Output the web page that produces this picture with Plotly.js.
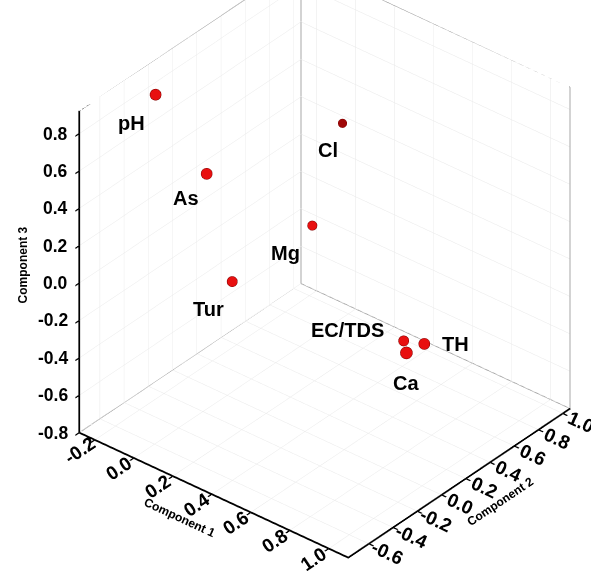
<!DOCTYPE html>
<html>
<head>
<meta charset="utf-8">
<script src="https://cdn.plot.ly/plotly-3.0.1.min.js"></script>
<style>html,body{margin:0;padding:0;background:#fff;}#plot{width:591px;height:583px;}</style>
</head>
<body>
<div id="plot"></div>
<script>
// Loadings
const labels = ["pH", "As", "Tur", "Mg", "Cl", "EC/TDS", "TH", "Ca"];
const comp1 = [-0.20, 0.00, 0.10, 0.20, 0.10, 0.93, 0.93, 0.95];
const comp2 = [-0.27, -0.17, -0.12, 0.38, 0.79, -0.04, 0.13, -0.05];
const comp3 = [0.83, 0.46, -0.09, 0.04, 0.36, -0.04, -0.13, -0.09];

const xTicks = [-0.2, 0.0, 0.2, 0.4, 0.6, 0.8, 1.0];
const yTicks = [-0.6, -0.4, -0.2, 0.0, 0.2, 0.4, 0.6, 0.8, 1.0];
const zTicks = [-0.8, -0.6, -0.4, -0.2, 0.0, 0.2, 0.4, 0.6, 0.8];
const xRange = [-0.28, 1.1];
const yRange = [-0.77, 1.06];
const zRange = [-0.8, 0.92];
const fmt = v => v.toFixed(1);

// styles
const markerSizes = [13, 13, 12, 11, 10, 12, 13, 14];
const markerColors = ["#e81010", "#e81010", "#e81010", "#e81010", "#a00808", "#e81010", "#e81010", "#e81010"];
const labelShift = [[-24, -29], [-21, -24], [-24, -28], [-27, -28], [-14, -27], [-56, 11], [31, 0], [0, -30]];

const FAM = "Liberation Sans, Arial, sans-serif";
const tickFont = {family: FAM, size: 15, color: "#000", weight: "bold"};
const titleFont = {family: FAM, size: 12, color: "#000", weight: "bold"};

function axis(title, ticks, range, extra) {
  return Object.assign({
    title: {text: title, font: titleFont},
    range: range,
    tickvals: ticks,
    ticktext: ticks.map(fmt),
    tickfont: tickFont,
    showgrid: true,
    gridcolor: "#e8e8e8",
    gridwidth: 1,
    showline: true,
    linecolor: "#000",
    linewidth: 4,
    ticks: "outside",
    ticklen: 6,
    tickwidth: 3,
    tickcolor: "#000",
    showbackground: false,
    zeroline: false,
    showspikes: false
  }, extra || {});
}

// thin frame of the back walls, built from the axis ranges
const [x0, x1] = xRange, [y0, y1] = yRange, [z0, z1] = zRange;
const frame = {
  type: "scatter3d", mode: "lines", hoverinfo: "skip",
  x: [x0, x0, x1, null, x0, x0, null, x1, x1, null, x0, x0, x1],
  y: [y0, y1, y1, null, y1, y1, null, y1, y1, null, y0, y1, y1],
  z: [z1, z1, z1, null, z0, z1, null, z0, z1, null, z0, z0, z0],
  line: {color: "#8c8c8c", width: 1.5}
};

const trace = {
  type: "scatter3d",
  mode: "markers",
  x: comp1, y: comp2, z: comp3,
  marker: {size: markerSizes, color: markerColors, opacity: 1, line: {color: "#800000", width: 1}},
  hoverinfo: "text", text: labels
};

const pointLabels = labels.map((t, i) => ({
  x: comp1[i], y: comp2[i], z: comp3[i],
  text: "<b>" + t + "</b>",
  showarrow: false,
  xshift: labelShift[i][0], yshift: labelShift[i][1],
  font: {family: FAM, size: 20, color: "#000"}
}));

// z tick labels, horizontal, placed left of the vertical axis
const zTickLabels = zTicks.map(v => ({
  x: x0, y: y0, z: v,
  text: "<b>" + fmt(v) + "</b>",
  showarrow: false,
  xanchor: "right", yanchor: "middle",
  xshift: -9,
  font: {family: FAM, size: 17.5, color: "#000"}
}));

const layout = {
  width: 591, height: 583,
  margin: {l: 0, r: 0, t: 0, b: 0},
  paper_bgcolor: "#fff",
  showlegend: false,
  annotations: [{
    xref: "paper", yref: "paper", x: 0.024, y: 0.545,
    text: "<b>Component 3</b>", textangle: -90, showarrow: false,
    font: {family: FAM, size: 12, color: "#000"}
  }],
  scene: {
    domain: {x: [0, 1], y: [0, 1]},
    xaxis: axis("Component 1", xTicks, xRange),
    yaxis: axis("Component 2", yTicks, yRange),
    zaxis: axis("", zTicks, zRange, {showticklabels: false}),
    aspectmode: "manual",
    aspectratio: {x: 1.20, y: 1.19, z: 1.33},
    camera: {
      eye: {x: 0.975, y: -1.329, z: 0.978},
      center: {x: -0.0381, y: -0.1106, z: -0.090},
      up: {x: 0, y: 0, z: 1},
      projection: {type: "orthographic"}
    },
    annotations: pointLabels.concat(zTickLabels)
  }
};

Plotly.newPlot("plot", [frame, trace], layout, {displayModeBar: false});
</script>
</body>
</html>
